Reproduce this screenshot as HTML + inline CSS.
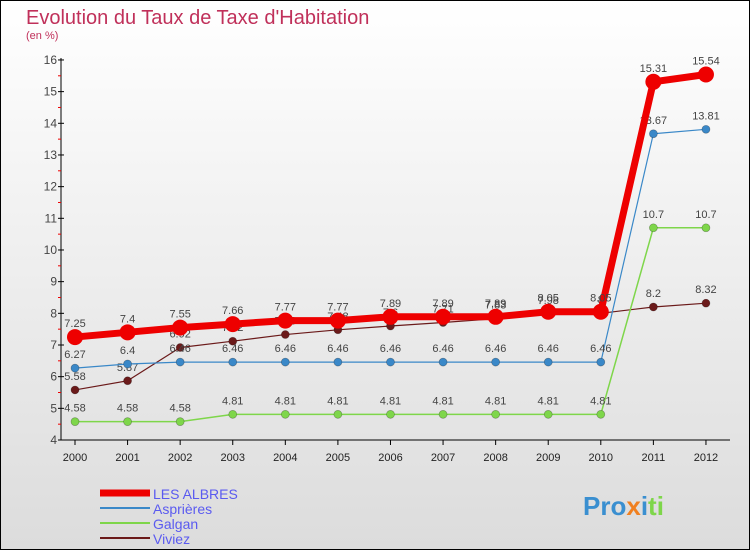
<!DOCTYPE html>
<html><head><meta charset="utf-8"><style>
body{margin:0;width:750px;height:550px;overflow:hidden}
svg{display:block;font-family:"Liberation Sans",sans-serif}
</style></head><body>
<svg width="750" height="550" xmlns="http://www.w3.org/2000/svg">
<defs><linearGradient id="bg" x1="0" y1="0" x2="0" y2="1"><stop offset="0" stop-color="#ffffff"/><stop offset="1" stop-color="#dcdcdc"/></linearGradient></defs>
<rect x="0.5" y="0.5" width="749" height="549" fill="url(#bg)" stroke="#000"/>
<text x="26" y="24" font-size="20" fill="#c0305a">Evolution du Taux de Taxe d'Habitation</text>
<text x="26" y="39" font-size="11" fill="#c0305a">(en %)</text>
<g id="axes"></g>
<g id="series"></g>
<g id="legend"></g>
<text x="583" y="515" font-size="26" font-weight="bold"><tspan fill="#3a8fd0">Pro</tspan><tspan fill="#f08020">x</tspan><tspan fill="#3a8fd0">i</tspan><tspan fill="#7ed64a">ti</tspan></text>
</svg>
<script>
const years = [2000,2001,2002,2003,2004,2005,2006,2007,2008,2009,2010,2011,2012];
const yTicks = [4,5,6,7,8,9,10,11,12,13,14,15,16];
const lesAlbres = [7.25,7.4,7.55,7.66,7.77,7.77,7.89,7.89,7.89,8.05,8.05,15.31,15.54];
const aspriere = [6.27,6.4,6.46,6.46,6.46,6.46,6.46,6.46,6.46,6.46,6.46,13.67,13.81];
const galgan = [4.58,4.58,4.58,4.81,4.81,4.81,4.81,4.81,4.81,4.81,4.81,10.7,10.7];
const viviez = [5.58,5.87,6.92,7.12,7.33,7.48,7.6,7.71,7.83,7.98,8.0,8.2,8.32];
const NS="http://www.w3.org/2000/svg";
const X=i=>75+i*52.58, Y=v=>440-(v-4)*31.67;
function mk(t,a,p){const e=document.createElementNS(NS,t);for(const k in a)e.setAttribute(k,a[k]);p.appendChild(e);return e;}
const ax=document.getElementById('axes');
let l=mk('line',{x1:61,y1:58,x2:61,y2:440,stroke:'#000'},ax);


l=mk('line',{x1:61,y1:440,x2:730,y2:440,stroke:'#000'},ax);


yTicks.forEach(v=>{
  mk('line',{x1:58,y1:Y(v),x2:64,y2:Y(v),stroke:'#000'},ax);
  if(v<16)mk('line',{x1:58,y1:Y(v+0.5),x2:61,y2:Y(v+0.5),stroke:'#e00'},ax);
  const t=mk('text',{x:57,y:Y(v)+4,'font-size':12,fill:'#444','text-anchor':'end'},ax);t.textContent=v;
  
  
});
years.forEach((y,i)=>{
  mk('line',{x1:X(i),y1:440,x2:X(i),y2:445,stroke:'#000'},ax);
  const t=mk('text',{x:X(i),y:461,'font-size':11,fill:'#222','text-anchor':'middle'},ax);t.textContent=y;
  
  
});
const sg=document.getElementById('series');
function draw(data,color,w,r,name,st){
  const g=mk('g',{},sg);
  
  
  mk('polyline',{points:data.map((v,i)=>X(i)+','+Y(v)).join(' '),fill:'none',stroke:color,'stroke-width':w,'stroke-linejoin':'round'},g);
  data.forEach((v,i)=>{
    const c=mk('circle',{cx:X(i),cy:Y(v),r:r,fill:color,stroke:st,'stroke-width':0.7},g);
    
    
    const t=mk('text',{x:X(i),y:Y(v)-10,'font-size':11,fill:'#444','text-anchor':'middle'},g);t.textContent=v;
  });
}
draw(viviez,'#6b1a1a',1.2,4,'series-viviez','rgba(0,0,0,0.3)');
draw(galgan,'#7ed64a',1.5,4,'series-galgan','rgba(0,0,0,0.3)');
draw(aspriere,'#3a88c8',1.2,4,'series-aspriere','rgba(0,0,0,0.3)');
draw(lesAlbres,'#ee0000',7,8,'series-les-albres','none');
const lg=document.getElementById('legend');
[['LES ALBRES','#ee0000',7],['Asprières','#3a88c8',2],['Galgan','#7ed64a',2],['Viviez','#6b1a1a',2]].forEach((d,i)=>{
  const y=493+i*15;
  const g=mk('g',{},lg);
  
  
  mk('line',{x1:100,y1:y,x2:150,y2:y,stroke:d[1],'stroke-width':d[2]},g);
  const t=mk('text',{x:153,y:y+6,'font-size':14,fill:'#5a5af0'},g);t.textContent=d[0];
});
</script>
</body></html>
